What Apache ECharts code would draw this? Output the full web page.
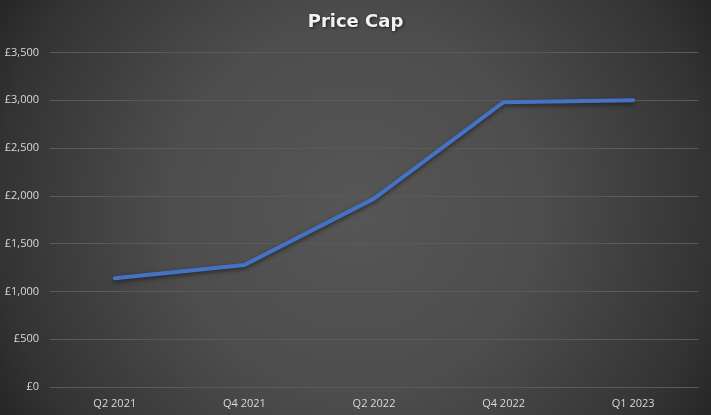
<!DOCTYPE html>
<html>
<head>
<meta charset="utf-8">
<script src="https://cdn.jsdelivr.net/npm/echarts@6/dist/echarts.min.js"></script>
<style>html,body{margin:0;padding:0;background:#333;}#c{width:711px;height:415px;}</style>
</head>
<body>
<div id="c"></div>
<script>
var categories = ['Q2 2021', 'Q4 2021', 'Q2 2022', 'Q4 2022', 'Q1 2023'];
var priceCap = [1138, 1277, 1971, 2980, 3000];
var yTicks = { min: 0, max: 3500, interval: 500 };

var chart = echarts.init(document.getElementById('c'), null, { renderer: 'canvas' });
var fontFam = '"Open Sans", "Noto Sans", sans-serif';
chart.setOption({
  backgroundColor: {
    type: 'radial', x: 0.5, y: 0.5, r: 1,
    colorStops: [
      { offset: 0, color: '#565656' },
      { offset: 0.45, color: '#4d4d4d' },
      { offset: 0.86, color: '#333333' },
      { offset: 1, color: '#252525' }
    ]
  },
  title: {
    text: 'Price Cap', left: 'center', top: 8,
    textStyle: {
      color: '#f2f2f2', fontSize: 18, fontWeight: 'bold', fontFamily: '"DejaVu Sans", sans-serif',
      textShadowColor: 'rgba(0,0,0,0.6)', textShadowBlur: 3, textShadowOffsetX: 1, textShadowOffsetY: 1
    }
  },
  grid: { left: 50, right: 13, top: 52.5, bottom: 28 },
  xAxis: {
    type: 'category', data: categories, boundaryGap: true,
    axisLine: { lineStyle: { color: '#5a5a5a', width: 1 } },
    axisTick: { show: false },
    axisLabel: { color: '#d9d9d9', fontSize: 11, fontFamily: fontFam, margin: 11 }
  },
  yAxis: {
    type: 'value', min: yTicks.min, max: yTicks.max, interval: yTicks.interval,
    axisLine: { show: false }, axisTick: { show: false },
    splitLine: { lineStyle: { color: '#5a5a5a', width: 1 } },
    axisLabel: {
      color: '#d9d9d9', fontSize: 11, fontFamily: fontFam, margin: 11,
      formatter: function (v) { return '£' + v.toLocaleString('en-GB'); }
    }
  },
  series: [{
    type: 'line', data: priceCap, symbol: 'none', smooth: false,
    lineStyle: { color: '#4472c4', width: 4, cap: 'round', join: 'round',
      shadowColor: 'rgba(0,0,0,0.5)', shadowBlur: 4, shadowOffsetY: 2 }
  }]
});
</script>
</body>
</html>
